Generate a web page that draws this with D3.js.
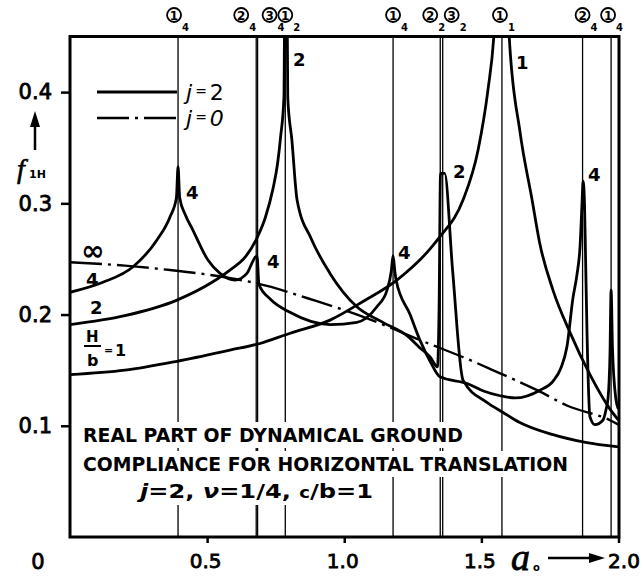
<!DOCTYPE html>
<html><head><meta charset="utf-8">
<script src="https://cdn.jsdelivr.net/npm/d3@7"></script>
<style>body{margin:0;background:#fff}svg{display:block}</style>
</head><body>
<svg id="c" width="643" height="577"></svg>
<script>
// ---------------- DATA ----------------
// a0 vs f1H
const curveH1 = [[0,0.146],[0.2,0.150],[0.39,0.158],[0.583,0.168],[0.693,0.174],[0.8,0.183],[0.948,0.195],[1.07,0.212],[1.192,0.231],[1.313,0.259],[1.349,0.270],[1.433,0.303],[1.488,0.348],[1.524,0.402],[1.546,0.452],[1.575,0.62],[1.601,0.452],[1.641,0.364],[1.685,0.303],[1.712,0.265],[1.761,0.222],[1.823,0.184],[1.896,0.146],[1.969,0.115],[2.0,0.105]];
const curveH2 = [[0,0.191],[0.2,0.199],[0.39,0.213],[0.518,0.229],[0.583,0.240],[0.64,0.252],[0.678,0.267],[0.712,0.287],[0.740,0.313],[0.757,0.336],[0.768,0.360],[0.780,0.395],[0.787,0.65],[0.794,0.395],[0.809,0.357],[0.828,0.303],[0.88,0.268],[0.948,0.237],[1.046,0.207],[1.141,0.193],[1.229,0.181],[1.276,0.170],[1.313,0.162],[1.340,0.153],[1.346,0.21],[1.351,0.327],[1.366,0.327],[1.395,0.240],[1.433,0.141],[1.52,0.121],[1.579,0.112],[1.64,0.103],[1.761,0.092],[1.88,0.085],[2.0,0.081]];
const curveH4 = [[0,0.220],[0.12,0.229],[0.230,0.243],[0.317,0.267],[0.365,0.288],[0.388,0.305],[0.394,0.333],[0.400,0.305],[0.420,0.290],[0.448,0.276],[0.503,0.249],[0.547,0.237],[0.602,0.231],[0.645,0.237],[0.667,0.248],[0.677,0.252],[0.682,0.252],[0.689,0.227],[0.73,0.214],[0.802,0.202],[0.948,0.191],[1.046,0.193],[1.119,0.207],[1.156,0.222],[1.172,0.240],[1.178,0.253],[1.184,0.240],[1.189,0.231],[1.240,0.200],[1.276,0.177],[1.313,0.158],[1.349,0.144],[1.448,0.138],[1.51,0.131],[1.568,0.127],[1.623,0.125],[1.714,0.132],[1.761,0.140],[1.79,0.152],[1.812,0.171],[1.834,0.215],[1.848,0.235],[1.860,0.262],[1.867,0.300],[1.871,0.320],[1.876,0.300],[1.880,0.250],[1.885,0.186],[1.896,0.108],[1.914,0.101],[1.943,0.105],[1.955,0.115],[1.962,0.125],[1.969,0.165],[1.973,0.222],[1.978,0.170],[1.99,0.125],[2.0,0.115]];
const curveInf = [[0,0.247],[0.2,0.244],[0.365,0.240],[0.5,0.236],[0.682,0.228],[0.9,0.212],[1.069,0.198],[1.287,0.176],[1.459,0.159],[1.533,0.151],[1.703,0.132],[1.814,0.118],[1.969,0.105],[2.0,0.101]];
const resonanceA0 = [0.394, 0.679, 0.684, 0.785, 1.178, 1.350, 1.359, 1.575, 1.869, 1.973];
const resonanceMode = ['1','2','3','1','1','2','3','1','2','1'];
const resonanceH = ['4','4','4','2','4','2','2','1','4','4'];
const xTicks = [0.5, 1.0, 1.5, 2.0];
const yTicks = [0.1, 0.2, 0.3, 0.4];
const curveNames = ['∞','4','2'];
const titleLines = ['REAL PART OF DYNAMICAL GROUND','COMPLIANCE FOR HORIZONTAL TRANSLATION'];

// ---------------- LAYOUT ----------------
const labelDx = [-4,-15,12,0,0,-10,9,-2,0,-3];
const svg = d3.select('#c');
const x = d3.scaleLinear().domain([0,2]).range([70,618.5]);
const y = d3.scaleLinear().domain([0,0.45]).range([537,36.5]);
const FONT = 'DejaVu Sans, sans-serif';

svg.append('defs').append('clipPath').attr('id','clip')
  .append('rect').attr('x',70).attr('y',36.5).attr('width',549).attr('height',500.5);

// resonance lines
svg.append('g').selectAll('line').data(resonanceA0).join('line')
  .attr('x1',d=>x(d)).attr('x2',d=>x(d)).attr('y1',36.5).attr('y2',537)
  .attr('stroke','#000').attr('stroke-width',1.3);

const line = d3.line().x(d=>x(d[0])).y(d=>y(d[1])).curve(d3.curveMonotoneX);
const cg = svg.append('g').attr('clip-path','url(#clip)');
[curveH1, curveH2, curveH4].forEach(c=>{
  cg.append('path').attr('d',line(c)).attr('fill','none').attr('stroke','#000')
    .attr('stroke-width',2.8).attr('stroke-linejoin','round');
});
cg.append('path').attr('d',line(curveInf)).attr('fill','none').attr('stroke','#000')
  .attr('stroke-width',2.4).attr('stroke-dasharray','32,6,3,6');

// title block with white backing
const tg = svg.append('g');
const tbg = tg.append('g');
const t1 = tg.append('text').attr('x',83).attr('y',442).attr('textLength',380).attr('lengthAdjust','spacingAndGlyphs')
  .attr('font-family',FONT).attr('font-weight','bold').attr('font-size',19).text(titleLines[0]);
const t2 = tg.append('text').attr('x',83).attr('y',471).attr('textLength',485).attr('lengthAdjust','spacingAndGlyphs')
  .attr('font-family',FONT).attr('font-weight','bold').attr('font-size',19).text(titleLines[1]);
const t3 = tg.append('text').attr('x',140).attr('y',498).attr('textLength',233).attr('lengthAdjust','spacingAndGlyphs')
  .attr('font-family',FONT).attr('font-weight','bold').attr('font-size',20);
t3.append('tspan').attr('font-style','italic').text('j');
t3.append('tspan').text('=2, ');
t3.append('tspan').attr('font-style','italic').text('ν');
t3.append('tspan').text('=1/4, ');
t3.append('tspan').attr('font-size',15).text('c');
t3.append('tspan').text('/b=1');
[t1,t2,t3].forEach(t=>{
  const b = t.node().getBBox();
  tbg.append('rect').attr('x',b.x-4).attr('y',b.y-2).attr('width',b.width+8).attr('height',b.height+4).attr('fill','#fff');
});

// frame
svg.append('rect').attr('x',70).attr('y',36.5).attr('width',549).attr('height',500.5)
  .attr('fill','none').attr('stroke','#000').attr('stroke-width',3);

// axes
const ya = svg.append('g').attr('transform','translate(70,0)')
  .call(d3.axisLeft(y).tickValues(yTicks).tickSize(9).tickPadding(9).tickFormat(d3.format('.1f')));
ya.select('.domain').remove();
ya.selectAll('line').attr('stroke-width',2.5);
ya.selectAll('text').attr('font-family',FONT).attr('font-size',21).attr('stroke','#000').attr('stroke-width',0.8);
const xa = svg.append('g').attr('transform','translate(0,537)')
  .call(d3.axisBottom(x).tickValues(xTicks).tickSize(6).tickFormat(d3.format('.1f')));
xa.select('.domain').remove();
xa.selectAll('line').attr('stroke-width',2.5);
xa.selectAll('text').attr('font-family',FONT).attr('font-size',20).attr('y',31).attr('dy',0)
  .attr('stroke','#000').attr('stroke-width',0.8)
  .attr('dx',d=>d===2?5:-2);
svg.append('text').attr('x',38).attr('y',569).attr('text-anchor','middle').attr('font-family',FONT)
  .attr('font-size',21).attr('stroke','#000').attr('stroke-width',0.8).text('0');

// x axis title a0 ->
svg.append('text').attr('x',511).attr('y',570).attr('font-family','Liberation Serif, serif').attr('font-style','italic')
  .attr('font-size',38).attr('stroke','#000').attr('stroke-width',0.8).text('a');
svg.append('text').attr('x',533).attr('y',571).attr('font-family',FONT).attr('font-size',10).attr('font-weight','bold').text('o');
svg.append('line').attr('x1',548).attr('x2',593).attr('y1',558).attr('y2',558).attr('stroke','#000').attr('stroke-width',2.5);
svg.append('path').attr('d','M589,553 L605,558 L589,563 Z').attr('fill','#000');

// y axis title f1H with arrow
svg.append('line').attr('x1',35).attr('x2',35).attr('y1',150).attr('y2',122).attr('stroke','#000').attr('stroke-width',2.5);
svg.append('path').attr('d','M30,127 L35,111 L40,127 Z').attr('fill','#000');
svg.append('text').attr('x',17).attr('y',178).attr('font-family','Liberation Serif, serif').attr('font-style','italic')
  .attr('font-size',28).attr('stroke','#000').attr('stroke-width',0.6).text('f');
svg.append('text').attr('x',29).attr('y',178).attr('font-family',FONT).attr('font-weight','bold').attr('font-size',11).text('1H');

// legend
svg.append('line').attr('x1',97).attr('x2',177).attr('y1',92).attr('y2',92).attr('stroke','#000').attr('stroke-width',2.8);
svg.append('line').attr('x1',97).attr('x2',177).attr('y1',118).attr('y2',118).attr('stroke','#000').attr('stroke-width',2.4)
  .attr('stroke-dasharray','32,6,3,6');
[['2',100],['0',126]].forEach(([v,yy])=>{
  const t = svg.append('text').attr('x',186).attr('y',yy).attr('font-family',FONT).attr('font-size',22);
  t.append('tspan').attr('font-style','italic').text('j');
  t.append('tspan').attr('font-size',14).attr('dx',3).attr('dy',-4).text('=');
  t.append('tspan').attr('dx',3).attr('dy',4).attr('font-style',v==='0'?'italic':'normal').text(v);
});

// resonance labels (circled numbers with subscripts)
const rg = svg.append('g');
resonanceA0.forEach((a,i)=>{
  const cx = x(a)+labelDx[i];
  rg.append('circle').attr('cx',cx).attr('cy',15).attr('r',7).attr('fill','none').attr('stroke','#000').attr('stroke-width',1.8);
  rg.append('text').attr('x',cx).attr('y',19.5).attr('text-anchor','middle').attr('font-family',FONT)
    .attr('font-weight','bold').attr('font-size',12).text(resonanceMode[i]);
  rg.append('text').attr('x',cx+8).attr('y',31).attr('font-family',FONT)
    .attr('font-weight','bold').attr('font-size',10).text(resonanceH[i]);
});

// curve name labels (left)
const lab = (t,xx,yy,fs)=>svg.append('text').attr('x',xx).attr('y',yy).attr('font-family',FONT)
  .attr('font-weight','bold').attr('font-size',fs).text(t);
lab(curveNames[0],81,260,28);
lab(curveNames[1],86,286,18);
lab(curveNames[2],90,314,18);
lab('H',86,342,15);
svg.append('line').attr('x1',84).attr('x2',101).attr('y1',346).attr('y2',346).attr('stroke','#000').attr('stroke-width',2);
lab('b',87,366,16);
lab('=',104,354,11);
lab('1',115,356,16);

// peak labels
lab('4',186,199,18);
lab('2',293,66,18);
lab('4',267,268,18);
lab('4',398,259,18);
lab('2',453,178,18);
lab('1',516,69,18);
lab('4',588,181,18);
</script>
</body></html>
